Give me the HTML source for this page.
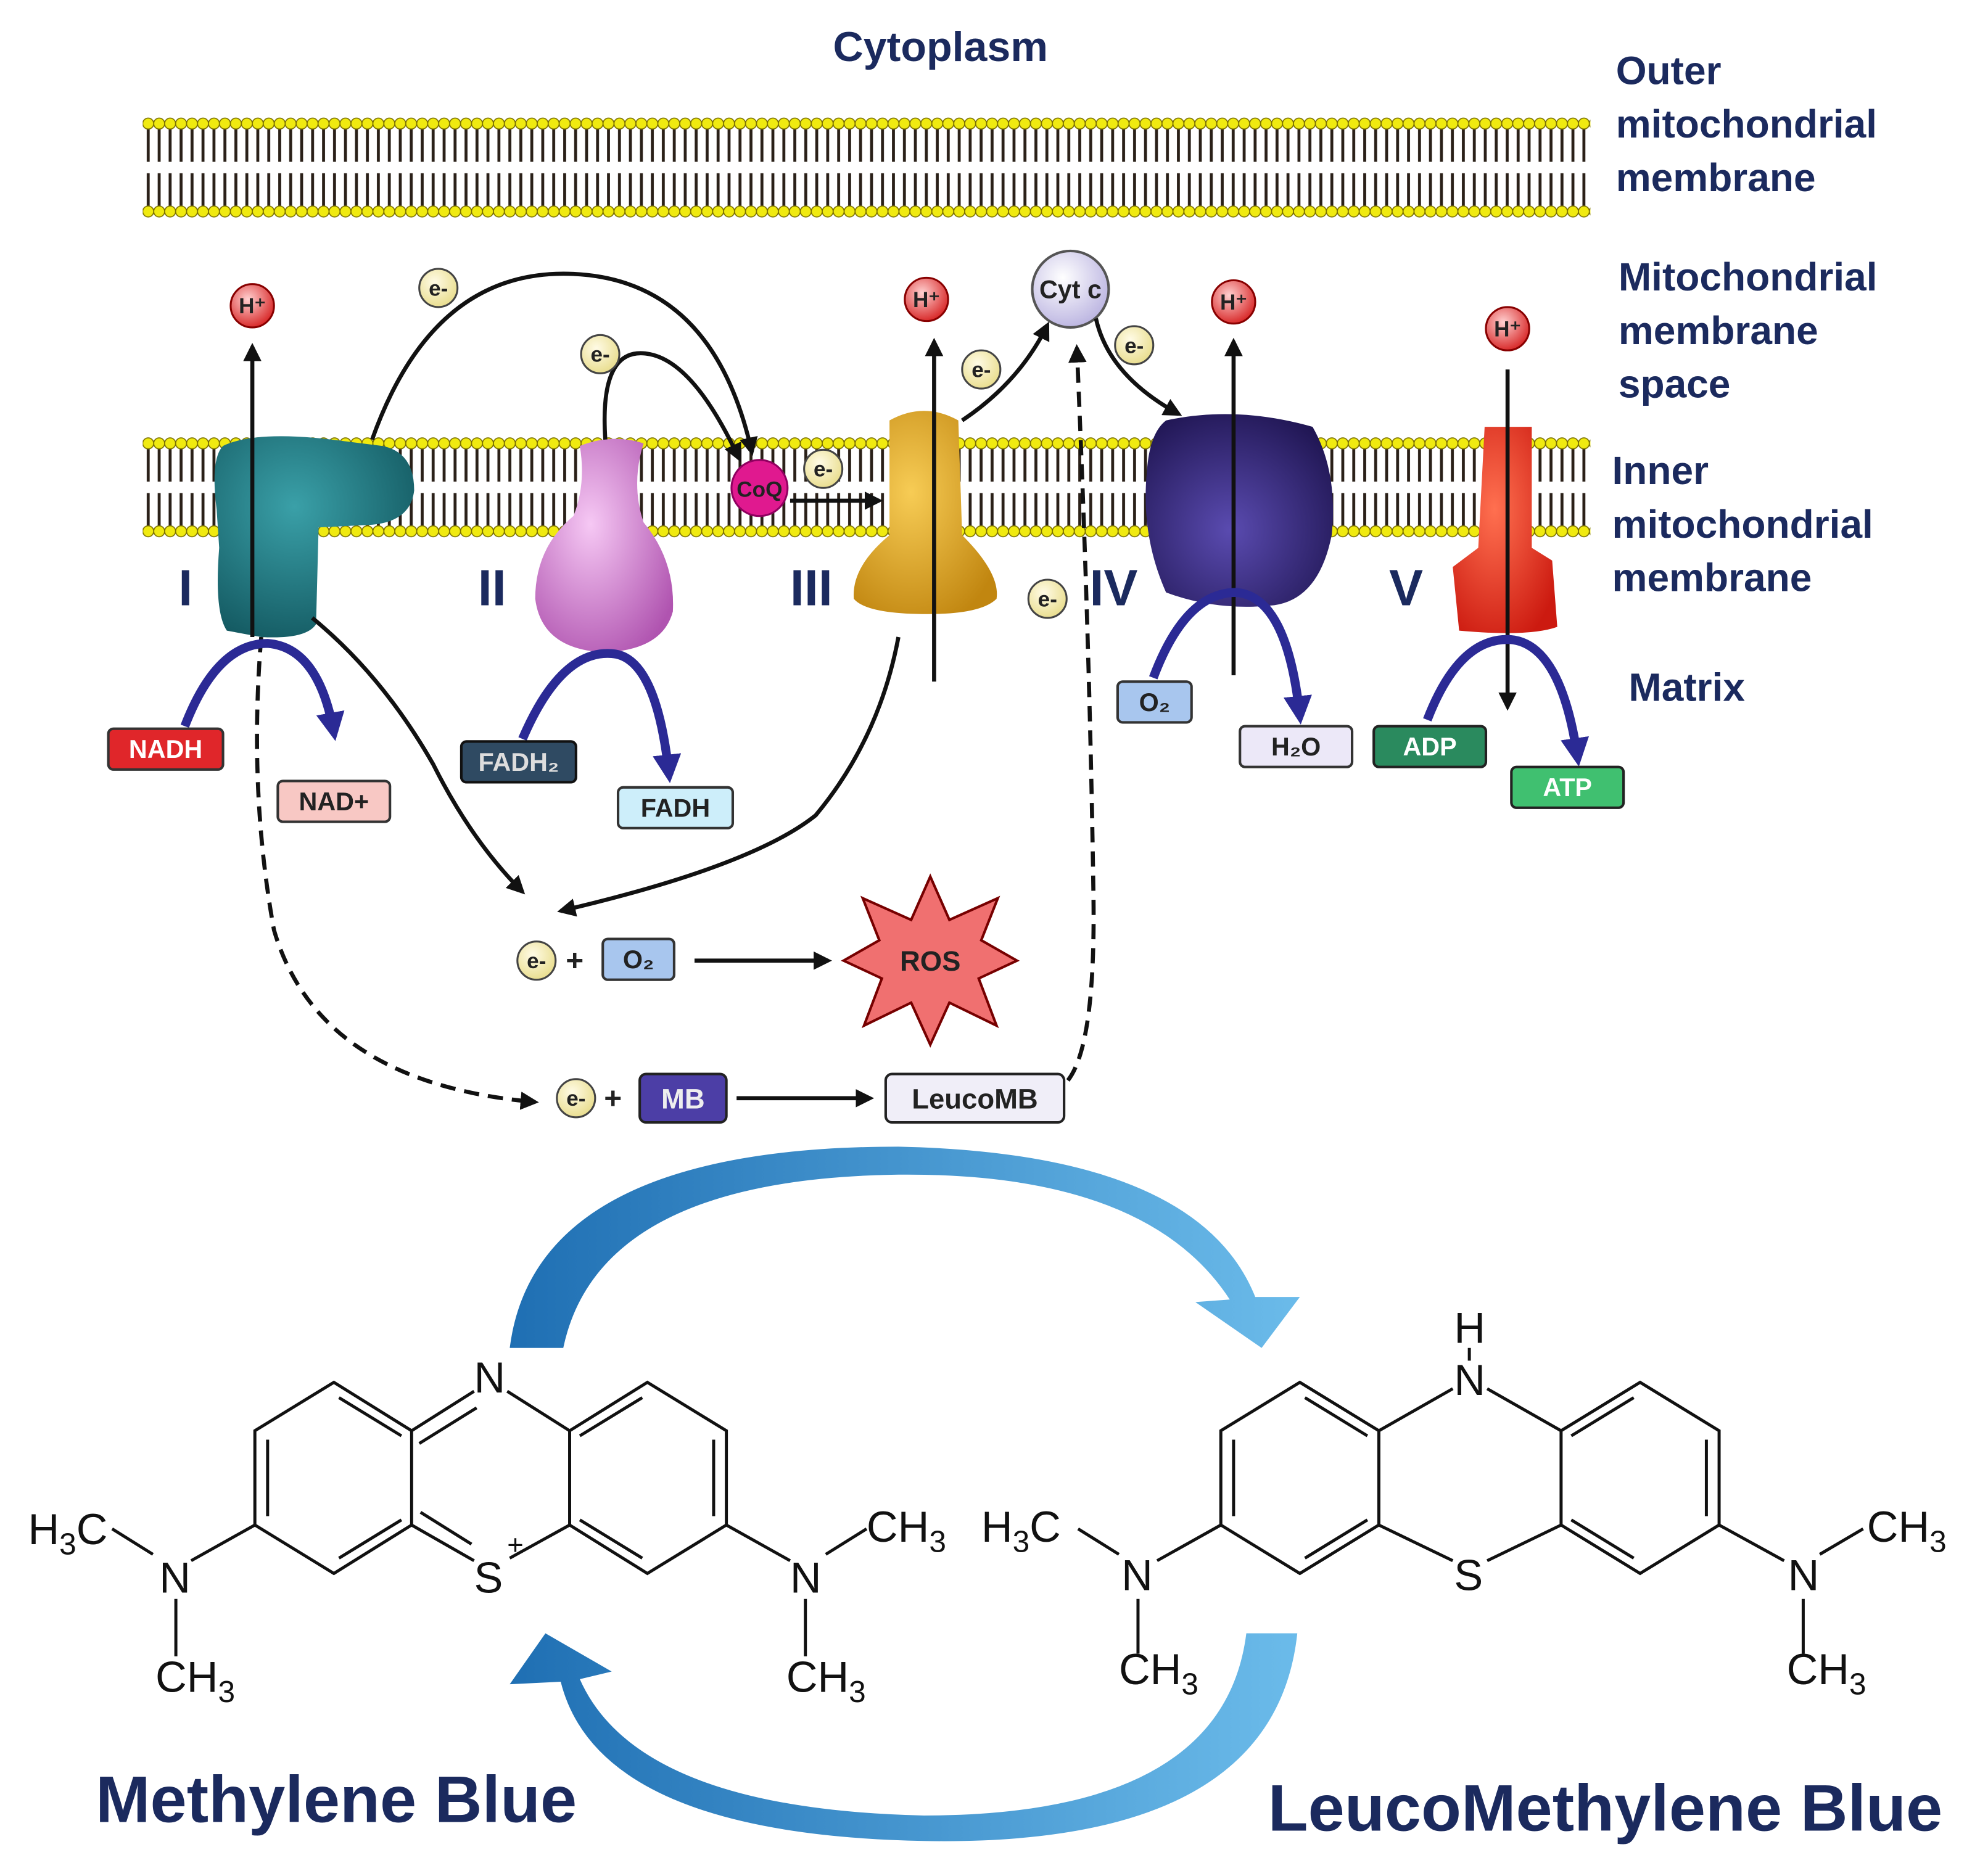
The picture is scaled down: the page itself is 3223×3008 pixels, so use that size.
<!DOCTYPE html>
<html><head><meta charset="utf-8"><style>
html,body{margin:0;padding:0;background:#fff}
svg{display:block}
text{font-family:"Liberation Sans",sans-serif}
</style></head><body>
<svg width="3223" height="3008" viewBox="0 0 1560 1456" preserveAspectRatio="none" xmlns="http://www.w3.org/2000/svg">
<defs>
<pattern id="oT" x="112" y="92" width="8.6" height="37" patternUnits="userSpaceOnUse">
<line x1="4.3" y1="8" x2="4.3" y2="35" stroke="#2a2018" stroke-width="2.3"/>
<circle cx="4.3" cy="5" r="4.3" fill="#f0ea10" stroke="#7a7000" stroke-width="0.8"/>
</pattern>
<pattern id="oB" x="112" y="134" width="8.6" height="37" patternUnits="userSpaceOnUse">
<line x1="4.3" y1="2" x2="4.3" y2="29" stroke="#2a2018" stroke-width="2.3"/>
<circle cx="4.3" cy="32" r="4.3" fill="#f0ea10" stroke="#7a7000" stroke-width="0.8"/>
</pattern>
<pattern id="iT" x="112" y="343" width="8.6" height="37" patternUnits="userSpaceOnUse">
<line x1="4.3" y1="8" x2="4.3" y2="35" stroke="#2a2018" stroke-width="2.3"/>
<circle cx="4.3" cy="5" r="4.3" fill="#f0ea10" stroke="#7a7000" stroke-width="0.8"/>
</pattern>
<pattern id="iB" x="112" y="385" width="8.6" height="37" patternUnits="userSpaceOnUse">
<line x1="4.3" y1="2" x2="4.3" y2="29" stroke="#2a2018" stroke-width="2.3"/>
<circle cx="4.3" cy="32" r="4.3" fill="#f0ea10" stroke="#7a7000" stroke-width="0.8"/>
</pattern>
<radialGradient id="hg" cx="40%" cy="35%" r="70%"><stop offset="0" stop-color="#ffd0d0"/><stop offset="1" stop-color="#d62020"/></radialGradient>
<radialGradient id="eg" cx="40%" cy="35%" r="70%"><stop offset="0" stop-color="#fffbe6"/><stop offset="1" stop-color="#e8dc8a"/></radialGradient>
<radialGradient id="cg" cx="40%" cy="35%" r="70%"><stop offset="0" stop-color="#ffffff"/><stop offset="1" stop-color="#b9b2e0"/></radialGradient>
<radialGradient id="tealg" cx="40%" cy="35%" r="70%"><stop offset="0" stop-color="#3aa0a8"/><stop offset="1" stop-color="#145a62"/></radialGradient>
<radialGradient id="pinkg" cx="40%" cy="40%" r="70%"><stop offset="0" stop-color="#f6c8f4"/><stop offset="1" stop-color="#b054b0"/></radialGradient>
<radialGradient id="goldg" cx="40%" cy="40%" r="70%"><stop offset="0" stop-color="#f7cc55"/><stop offset="1" stop-color="#c18610"/></radialGradient>
<radialGradient id="purg" cx="45%" cy="60%" r="70%"><stop offset="0" stop-color="#5a4bb0"/><stop offset="1" stop-color="#1e1450"/></radialGradient>
<radialGradient id="redg" cx="40%" cy="40%" r="70%"><stop offset="0" stop-color="#ff7050"/><stop offset="1" stop-color="#cc1a10"/></radialGradient>
<linearGradient id="blueA" x1="0" y1="0" x2="1" y2="0"><stop offset="0" stop-color="#1f6fb3"/><stop offset="1" stop-color="#6bbbea"/></linearGradient>
<marker id="ah" viewBox="0 0 10 10" refX="8" refY="5" markerWidth="4.5" markerHeight="4.5" orient="auto"><path d="M0,0 L10,5 L0,10 z" fill="#111"/></marker>
<marker id="ab" viewBox="0 0 10 10" refX="7" refY="5" markerWidth="3.2" markerHeight="3.2" orient="auto"><path d="M0,0 L10,5 L0,10 z" fill="#2b2a95"/></marker>
</defs>

<text x="738" y="48" font-size="33" font-weight="bold" fill="#1b2a5e" text-anchor="middle">Cytoplasm</text>
<g font-size="31" font-weight="bold" fill="#1b2a5e">
<text x="1268" y="66">Outer</text><text x="1268" y="108">mitochondrial</text><text x="1268" y="150">membrane</text>
<text x="1270" y="228">Mitochondrial</text><text x="1270" y="270">membrane</text><text x="1270" y="312">space</text>
<text x="1265" y="380">Inner</text><text x="1265" y="422">mitochondrial</text><text x="1265" y="464">membrane</text>
<text x="1278" y="550">Matrix</text>
</g>

<rect x="112" y="92" width="1136" height="37" fill="url(#oT)"/>
<rect x="112" y="134" width="1136" height="37" fill="url(#oB)"/>
<rect x="112" y="343" width="1136" height="37" fill="url(#iT)"/>
<rect x="112" y="385" width="1136" height="37" fill="url(#iB)"/>

<path d="M175,350 Q200,338 260,345 L300,350 Q325,355 325,385 Q322,410 290,412 L250,414 L248,490 Q240,502 205,500 L178,495 Q168,480 172,430 L170,400 Q165,360 175,350 z" fill="url(#tealg)"/>
<path d="M455,350 Q480,340 505,348 Q495,380 505,410 Q530,440 528,480 Q520,510 475,512 Q425,510 420,470 Q420,430 450,405 Q460,380 455,350 z" fill="url(#pinkg)"/>
<path d="M698,330 Q725,315 752,330 L755,420 Q785,450 782,470 Q770,482 728,482 Q680,482 670,470 Q668,445 698,420 z" fill="url(#goldg)"/>
<path d="M915,330 Q970,318 1030,335 Q1050,370 1045,420 Q1035,470 1000,475 Q955,480 915,465 Q895,420 900,370 Q902,340 915,330 z" fill="url(#purg)"/>
<path d="M1165,335 L1202,335 L1202,430 L1218,440 L1222,492 Q1200,500 1145,495 L1140,445 L1160,430 z" fill="url(#redg)"/>

<g font-size="40" font-weight="bold" fill="#1b2a5e">
<text x="140" y="475">I</text><text x="375" y="475">II</text><text x="620" y="475">III</text><text x="855" y="475">IV</text><text x="1090" y="475">V</text>
</g>

<circle cx="596" cy="383" r="22" fill="#e0198f" stroke="#900060" stroke-width="1.5"/>
<text x="596" y="390" font-size="17" font-weight="bold" fill="#222" text-anchor="middle">CoQ</text>
<circle cx="840" cy="227" r="30" fill="url(#cg)" stroke="#555" stroke-width="2"/>
<text x="840" y="234" font-size="20" font-weight="bold" fill="#222" text-anchor="middle">Cyt c</text>

<g stroke="#111" stroke-width="3.2" fill="none" marker-end="url(#ah)">
<line x1="198" y1="500" x2="198" y2="272"/>
<line x1="733" y1="535" x2="733" y2="268"/>
<line x1="968" y1="530" x2="968" y2="268"/>
<line x1="1183" y1="290" x2="1183" y2="555"/>
<path d="M292,345 Q340,210 450,215 Q560,220 590,355"/>
<path d="M475,345 Q470,270 510,278 Q545,285 580,360"/>
<line x1="620" y1="393" x2="690" y2="393"/>
<path d="M755,330 Q800,300 822,255"/>
<path d="M860,250 Q870,295 925,325"/>
<path d="M245,485 Q300,530 340,600 Q370,660 410,700"/>
<path d="M705,500 Q690,580 640,640 Q590,680 440,715"/>
<line x1="545" y1="754" x2="650" y2="754"/>
<line x1="578" y1="862" x2="683" y2="862"/>
</g>
<g stroke="#111" stroke-width="3.2" fill="none" stroke-dasharray="12,7">
<path d="M205,500 Q195,620 215,730 Q250,850 420,865" marker-end="url(#ah)"/>
<path d="M838,848 Q860,820 858,700 Q855,500 845,273" marker-end="url(#ah)"/>
</g>

<g stroke="#2b2a95" stroke-width="7" fill="none" marker-end="url(#ab)">
<path d="M145,570 Q170,505 210,505 Q250,508 262,575"/>
<path d="M410,580 Q440,510 480,513 Q515,515 525,608"/>
<path d="M905,532 Q930,465 970,465 Q1010,468 1020,562"/>
<path d="M1120,565 Q1145,500 1185,502 Q1225,505 1238,595"/>
</g>

<g font-size="17" font-weight="bold" fill="#222" text-anchor="middle">
<circle cx="198" cy="240" r="17" fill="url(#hg)" stroke="#800" stroke-width="1.5"/><text x="198" y="246">H⁺</text>
<circle cx="727" cy="235" r="17" fill="url(#hg)" stroke="#800" stroke-width="1.5"/><text x="727" y="241">H⁺</text>
<circle cx="968" cy="237" r="17" fill="url(#hg)" stroke="#800" stroke-width="1.5"/><text x="968" y="243">H⁺</text>
<circle cx="1183" cy="258" r="17" fill="url(#hg)" stroke="#800" stroke-width="1.5"/><text x="1183" y="264">H⁺</text>
</g>

<g font-size="17" font-weight="bold" fill="#222" text-anchor="middle">
<g><circle cx="344" cy="226" r="15" fill="url(#eg)" stroke="#444" stroke-width="1.5"/><text x="344" y="232">e-</text></g>
<g><circle cx="471" cy="278" r="15" fill="url(#eg)" stroke="#444" stroke-width="1.5"/><text x="471" y="284">e-</text></g>
<g><circle cx="646" cy="368" r="15" fill="url(#eg)" stroke="#444" stroke-width="1.5"/><text x="646" y="374">e-</text></g>
<g><circle cx="770" cy="290" r="15" fill="url(#eg)" stroke="#444" stroke-width="1.5"/><text x="770" y="296">e-</text></g>
<g><circle cx="890" cy="271" r="15" fill="url(#eg)" stroke="#444" stroke-width="1.5"/><text x="890" y="277">e-</text></g>
<g><circle cx="822" cy="470" r="15" fill="url(#eg)" stroke="#444" stroke-width="1.5"/><text x="822" y="476">e-</text></g>
<g><circle cx="421" cy="754" r="15" fill="url(#eg)" stroke="#444" stroke-width="1.5"/><text x="421" y="760">e-</text></g>
<g><circle cx="452" cy="862" r="15" fill="url(#eg)" stroke="#444" stroke-width="1.5"/><text x="452" y="868">e-</text></g>
</g>
<g font-size="24" font-weight="bold" fill="#222"><text x="444" y="762">+</text><text x="474" y="870">+</text></g>

<g font-size="20" font-weight="bold" text-anchor="middle" stroke-width="2">
<rect x="85" y="572" width="90" height="32" rx="4" fill="#e0262a" stroke="#333"/><text x="130" y="595" fill="#fff" stroke="none">NADH</text>
<rect x="218" y="613" width="88" height="32" rx="4" fill="#f8c8c4" stroke="#333"/><text x="262" y="636" fill="#222" stroke="none">NAD+</text>
<rect x="362" y="582" width="90" height="32" rx="4" fill="#2f4a62" stroke="#111"/><text x="407" y="605" fill="#ddd" stroke="none">FADH₂</text>
<rect x="485" y="618" width="90" height="32" rx="4" fill="#cdeefa" stroke="#333"/><text x="530" y="641" fill="#222" stroke="none">FADH</text>
<rect x="877" y="535" width="58" height="32" rx="4" fill="#a8c6ee" stroke="#333"/><text x="906" y="558" fill="#222" stroke="none">O₂</text>
<rect x="973" y="570" width="88" height="32" rx="4" fill="#ece8f8" stroke="#333"/><text x="1017" y="593" fill="#222" stroke="none">H₂O</text>
<rect x="1078" y="570" width="88" height="32" rx="4" fill="#2a8a5e" stroke="#222"/><text x="1122" y="593" fill="#fff" stroke="none">ADP</text>
<rect x="1186" y="602" width="88" height="32" rx="4" fill="#40c070" stroke="#222"/><text x="1230" y="625" fill="#fff" stroke="none">ATP</text>
<rect x="473" y="737" width="56" height="32" rx="4" fill="#a8c6ee" stroke="#333"/><text x="501" y="760" fill="#222" stroke="none">O₂</text>
<rect x="502" y="843" width="68" height="38" rx="5" fill="#4c3ea6" stroke="#222"/><text x="536" y="870" fill="#eee" stroke="none" font-size="22">MB</text>
<rect x="695" y="843" width="140" height="38" rx="5" fill="#f0eef8" stroke="#222"/><text x="765" y="870" fill="#222" stroke="none" font-size="22">LeucoMB</text>
</g>

<path d="M730,688 L745,722 L783,705 L770,738 L798,754 L768,768 L782,805 L745,787 L730,820 L715,787 L678,805 L692,768 L662,754 L690,738 L677,705 L715,722 z" fill="#f07070" stroke="#700" stroke-width="2"/>
<text x="730" y="762" font-size="22" font-weight="bold" fill="#222" text-anchor="middle">ROS</text>

<path d="M400,1058 Q420,900 705,900 Q940,905 985,1018 L1020,1018 L990,1058 L938,1022 L965,1020 Q900,920 705,922 Q470,925 442,1058 z" fill="url(#blueA)"/>
<path d="M1018,1282 Q1000,1450 725,1445 Q470,1440 440,1320 L400,1322 L428,1282 L480,1312 L455,1318 Q500,1420 725,1425 Q960,1425 978,1282 z" fill="url(#blueA)"/>

<g stroke="#111" stroke-width="2.4" fill="none">
<polygon points="200,1123 262,1085 323,1123 323,1197 262,1235 200,1197"/>
<line x1="210" y1="1130" x2="210" y2="1190"/><line x1="266" y1="1097" x2="315" y2="1127"/><line x1="266" y1="1223" x2="315" y2="1193"/>
<polygon points="447,1123 508,1085 570,1123 570,1197 508,1235 447,1197"/>
<line x1="560" y1="1130" x2="560" y2="1190"/><line x1="455" y1="1127" x2="504" y2="1097"/><line x1="455" y1="1193" x2="504" y2="1223"/>
<line x1="323" y1="1123" x2="372" y2="1092"/><line x1="329" y1="1133" x2="374" y2="1105"/><line x1="398" y1="1092" x2="447" y2="1123"/>
<line x1="323" y1="1197" x2="372" y2="1225"/><line x1="330" y1="1187" x2="370" y2="1212"/><line x1="400" y1="1223" x2="447" y2="1197"/>
<line x1="200" y1="1197" x2="150" y2="1225"/><line x1="120" y1="1220" x2="88" y2="1200"/><line x1="138" y1="1255" x2="138" y2="1300"/>
<line x1="570" y1="1197" x2="620" y2="1225"/><line x1="648" y1="1220" x2="680" y2="1200"/><line x1="632" y1="1255" x2="632" y2="1300"/>
</g>
<g font-size="34" fill="#111">
<text x="372" y="1093">N</text><text x="372" y="1250">S</text><text x="398" y="1220" font-size="22">+</text>
<text x="125" y="1250">N</text><text x="22" y="1212">H<tspan font-size="24" dy="8">3</tspan><tspan dy="-8">C</tspan></text>
<text x="122" y="1328">CH<tspan font-size="24" dy="8">3</tspan></text>
<text x="620" y="1250">N</text><text x="680" y="1210">CH<tspan font-size="24" dy="8">3</tspan></text>
<text x="617" y="1328">CH<tspan font-size="24" dy="8">3</tspan></text>
</g>

<g stroke="#111" stroke-width="2.4" fill="none">
<polygon points="958,1123 1020,1085 1082,1123 1082,1197 1020,1235 958,1197"/>
<line x1="968" y1="1130" x2="968" y2="1190"/><line x1="1024" y1="1097" x2="1073" y2="1127"/><line x1="1024" y1="1223" x2="1073" y2="1193"/>
<polygon points="1225,1123 1287,1085 1349,1123 1349,1197 1287,1235 1225,1197"/>
<line x1="1339" y1="1130" x2="1339" y2="1190"/><line x1="1233" y1="1127" x2="1282" y2="1097"/><line x1="1233" y1="1193" x2="1282" y2="1223"/>
<line x1="1082" y1="1123" x2="1140" y2="1090"/><line x1="1167" y1="1090" x2="1225" y2="1123"/>
<line x1="1082" y1="1197" x2="1140" y2="1225"/><line x1="1167" y1="1225" x2="1225" y2="1197"/>
<line x1="1153" y1="1058" x2="1153" y2="1068"/>
<line x1="958" y1="1197" x2="908" y2="1225"/><line x1="878" y1="1220" x2="846" y2="1200"/><line x1="893" y1="1255" x2="893" y2="1298"/>
<line x1="1349" y1="1197" x2="1400" y2="1225"/><line x1="1428" y1="1220" x2="1462" y2="1200"/><line x1="1415" y1="1255" x2="1415" y2="1298"/>
</g>
<g font-size="34" fill="#111">
<text x="1141" y="1054">H</text><text x="1141" y="1095">N</text><text x="1141" y="1248">S</text>
<text x="880" y="1248">N</text><text x="770" y="1210">H<tspan font-size="24" dy="8">3</tspan><tspan dy="-8">C</tspan></text>
<text x="878" y="1322">CH<tspan font-size="24" dy="8">3</tspan></text>
<text x="1403" y="1248">N</text><text x="1465" y="1210">CH<tspan font-size="24" dy="8">3</tspan></text>
<text x="1402" y="1322">CH<tspan font-size="24" dy="8">3</tspan></text>
</g>

<text x="75" y="1430" font-size="51.5" font-weight="bold" fill="#1b2a5e">Methylene Blue</text>
<text x="995" y="1437" font-size="51.5" font-weight="bold" fill="#1b2a5e">LeucoMethylene Blue</text>
</svg>
</body></html>
